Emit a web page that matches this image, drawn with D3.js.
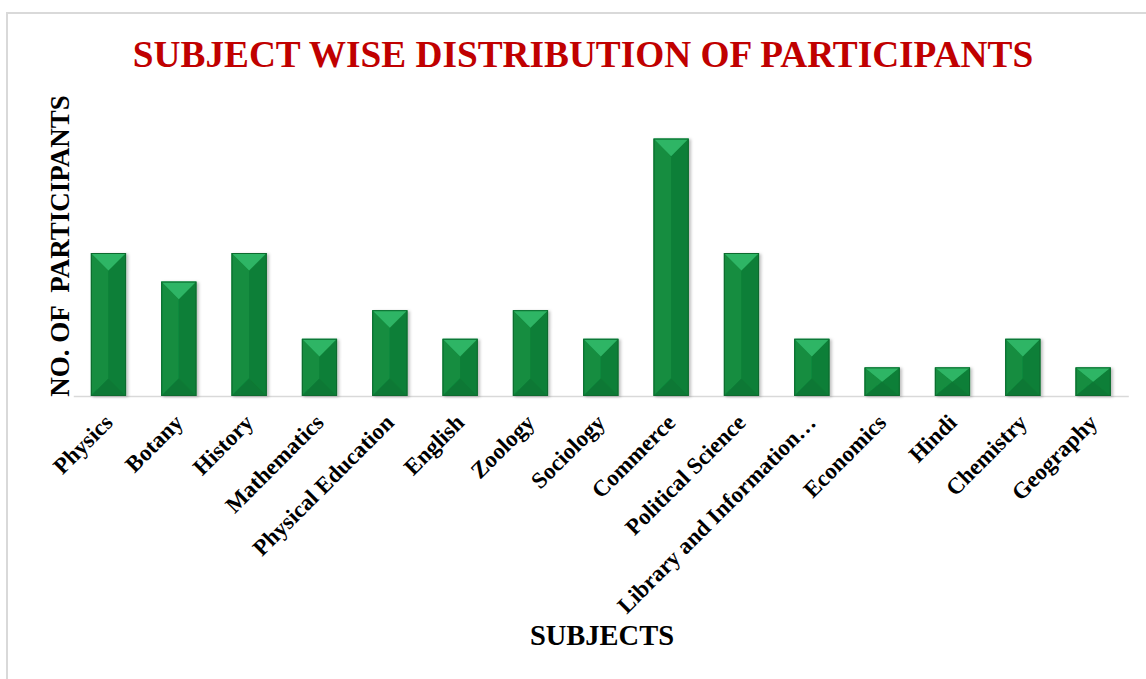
<!DOCTYPE html>
<html><head><meta charset="utf-8">
<script src="https://cdn.jsdelivr.net/npm/d3@7"></script>
<style>html,body{margin:0;padding:0;background:#fff;}svg{display:block;}</style>
</head><body>
<script>
const categories = ["Physics","Botany","History","Mathematics","Physical Education","English","Zoology","Sociology","Commerce","Political Science","Library and Information\u2026","Economics","Hindi","Chemistry","Geography"];
const participants = [5,4,5,2,3,2,3,2,9,5,2,1,1,2,1];
const yDomain = [0, 10];
const titleText = "SUBJECT WISE DISTRIBUTION OF PARTICIPANTS";
const yTitle = "NO. OF  PARTICIPANTS";
const xTitle = "SUBJECTS";

const W = 1146, H = 679;
const svg = d3.select("body").append("svg").attr("width", W).attr("height", H);
const font = "'Liberation Serif','Times New Roman',serif";

svg.append("rect").attr("x",7).attr("y",13).attr("width",W+10).attr("height",H+10)
  .attr("fill","#fff").attr("stroke","#d9d9d9").attr("stroke-width",2);

const defs = svg.append("defs");
const f = defs.append("filter").attr("id","sh").attr("x","-20%").attr("y","-20%").attr("width","150%").attr("height","150%");
f.append("feDropShadow").attr("dx",2).attr("dy",1).attr("stdDeviation",1.5).attr("flood-color","#000").attr("flood-opacity",0.25);

const x = d3.scaleBand().domain(categories).range([73.3, 1128.3]).paddingInner(0.5).paddingOuter(0.25);
const y = d3.scaleLinear().domain(yDomain).range([396, 110]);

svg.append("text").attr("x",583).attr("y",67).attr("text-anchor","middle")
  .attr("font-family",font).attr("font-weight","bold").attr("font-size",37.3).attr("fill","#c00000").text(titleText);

// baseline axis
const xAxis = d3.axisBottom(x).tickSize(0).tickFormat("");
const ax = svg.append("g").attr("transform","translate(0,396)").call(xAxis);
ax.select(".domain").attr("stroke","#d9d9d9").attr("stroke-width",1.5);

const bw = x.bandwidth();
const g = svg.append("g");
participants.forEach((v,i)=>{
  const x0 = x(categories[i]), x1 = x0 + bw, xc = x0 + bw/2;
  const y0 = y(v), y1 = y(0), h = y1 - y0;
  const d = Math.min(bw/2, h/2);
  const bg = g.append("g").attr("filter","url(#sh)");
  bg.append("rect").attr("x",x0).attr("y",y0).attr("width",bw).attr("height",h).attr("fill","#0f883c");
  bg.append("polygon").attr("points",[[x0,y0],[xc,y0+d],[xc,y1-d],[x0,y1]].join(" ")).attr("fill","#138d3f");
  bg.append("polygon").attr("points",[[x1,y0],[xc,y0+d],[xc,y1-d],[x1,y1]].join(" ")).attr("fill","#0e7f37");
  bg.append("polygon").attr("points",[[x0,y0],[x1,y0],[xc,y0+d]].join(" ")).attr("fill","#2fb565");
  bg.append("polygon").attr("points",[[x0,y1],[x1,y1],[xc,y1-d]].join(" ")).attr("fill","#0c7834");
  bg.append("rect").attr("x",x0+0.5).attr("y",y0+0.5).attr("width",bw-1).attr("height",h-1)
    .attr("fill","none").attr("stroke","#0a6a2e").attr("stroke-width",1);
});

// tick labels
svg.append("g").selectAll("text").data(categories).join("text")
  .attr("transform", d => `translate(${x(d)+bw/2+5.5},${424}) rotate(-45)`)
  .attr("text-anchor","end")
  .attr("font-family",font).attr("font-weight","bold").attr("font-size",23).attr("fill","#000")
  .text(d=>d);

svg.append("text").attr("transform","translate(69,246) rotate(-90)").attr("text-anchor","middle")
  .attr("font-family",font).attr("font-weight","bold").attr("font-size",27).attr("fill","#000")
  .attr("xml:space","preserve").style("white-space","pre").text(yTitle);

svg.append("text").attr("x",602).attr("y",645).attr("text-anchor","middle")
  .attr("font-family",font).attr("font-weight","bold").attr("font-size",28.5).attr("fill","#000").text(xTitle);
</script>
</body></html>
